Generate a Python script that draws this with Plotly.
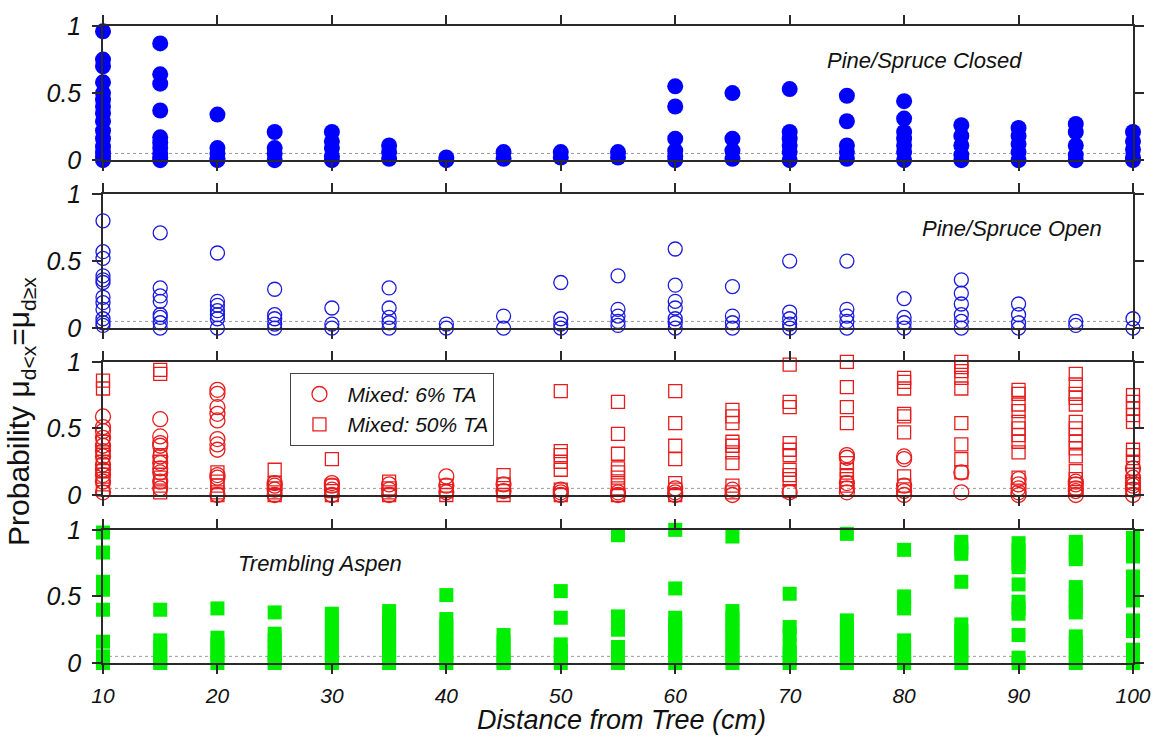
import plotly.graph_objects as go

# Distances from the tree (cm) at which probabilities were evaluated
distances = [10, 15, 20, 25, 30, 35, 40, 45, 50, 55, 60, 65, 70, 75, 80, 85, 90, 95, 100]

# Probability values per distance for each stand type
pine_closed = [
    [0.96, 0.75, 0.70, 0.58, 0.50, 0.45, 0.40, 0.35, 0.29, 0.22, 0.16, 0.10, 0.06, 0.03, 0.0],
    [0.87, 0.64, 0.57, 0.37, 0.17, 0.13, 0.09, 0.05, 0.02, 0.0],
    [0.34, 0.09, 0.05, 0.01, 0.0],
    [0.21, 0.09, 0.05, 0.0],
    [0.21, 0.14, 0.09, 0.03, 0.0],
    [0.11, 0.06, 0.01],
    [0.02, 0.0],
    [0.06, 0.01],
    [0.06, 0.02],
    [0.06, 0.02],
    [0.55, 0.40, 0.16, 0.07, 0.03, 0.0],
    [0.50, 0.16, 0.07, 0.01],
    [0.53, 0.21, 0.16, 0.11, 0.06, 0.0],
    [0.48, 0.29, 0.11, 0.06, 0.01],
    [0.44, 0.31, 0.21, 0.16, 0.11, 0.06, 0.0],
    [0.26, 0.18, 0.11, 0.04, 0.0],
    [0.24, 0.18, 0.12, 0.06, 0.0],
    [0.27, 0.21, 0.11, 0.04, 0.0],
    [0.21, 0.14, 0.08, 0.02, 0.0],
]

pine_open = [
    [0.80, 0.57, 0.52, 0.39, 0.36, 0.34, 0.23, 0.19, 0.14, 0.07, 0.04, 0.02],
    [0.71, 0.30, 0.24, 0.20, 0.10, 0.08, 0.04, 0.0],
    [0.56, 0.20, 0.17, 0.13, 0.10, 0.07, 0.0],
    [0.29, 0.10, 0.07, 0.03, 0.0],
    [0.15, 0.03, 0.0],
    [0.30, 0.15, 0.08, 0.04, 0.0],
    [0.03, 0.0],
    [0.09, 0.0],
    [0.34, 0.07, 0.03, 0.0],
    [0.39, 0.14, 0.09, 0.05, 0.02],
    [0.59, 0.32, 0.20, 0.15, 0.07, 0.04, 0.0],
    [0.31, 0.09, 0.04, 0.0],
    [0.50, 0.12, 0.07, 0.03, 0.0],
    [0.50, 0.14, 0.09, 0.05, 0.0],
    [0.22, 0.08, 0.04, 0.0],
    [0.36, 0.26, 0.18, 0.10, 0.05, 0.0],
    [0.18, 0.10, 0.04, 0.0],
    [0.05, 0.02],
    [0.07, 0.0],
]

mixed_6 = [
    [0.59, 0.51, 0.48, 0.43, 0.37, 0.33, 0.29, 0.23, 0.19, 0.15, 0.10, 0.02],
    [0.57, 0.44, 0.39, 0.37, 0.29, 0.24, 0.20, 0.17, 0.10, 0.05],
    [0.79, 0.76, 0.66, 0.61, 0.56, 0.42, 0.38, 0.34, 0.15, 0.13, 0.0],
    [0.09, 0.07, 0.04, 0.0],
    [0.09, 0.07, 0.04, 0.0],
    [0.08, 0.04, 0.0],
    [0.14, 0.07, 0.02],
    [0.08, 0.03],
    [0.04, 0.02, 0.0],
    [0.02, 0.0],
    [0.05, 0.02, 0.0],
    [0.04, 0.0],
    [0.02],
    [0.30, 0.28, 0.09, 0.05, 0.02],
    [0.29, 0.27, 0.07, 0.03, 0.0],
    [0.17, 0.02],
    [0.12, 0.08, 0.05, 0.02, 0.0],
    [0.10, 0.08, 0.05, 0.03, 0.0],
    [0.20, 0.13, 0.09, 0.07, 0.04, 0.0],
]

mixed_50 = [
    [0.86, 0.80, 0.40, 0.32, 0.25, 0.18, 0.12, 0.08, 0.04],
    [0.94, 0.91, 0.30, 0.25, 0.13, 0.10, 0.07, 0.02],
    [0.17, 0.10, 0.07, 0.02, 0.0],
    [0.19, 0.09, 0.05, 0.02, 0.0],
    [0.27, 0.07, 0.03, 0.0],
    [0.10, 0.05, 0.02, 0.0],
    [0.07, 0.03, 0.0],
    [0.15, 0.08, 0.03, 0.0],
    [0.78, 0.33, 0.30, 0.25, 0.19, 0.04, 0.0],
    [0.70, 0.46, 0.31, 0.20, 0.17, 0.13, 0.09, 0.05, 0.0],
    [0.78, 0.54, 0.37, 0.27, 0.09, 0.04, 0.0],
    [0.64, 0.59, 0.54, 0.40, 0.37, 0.32, 0.24, 0.07, 0.02],
    [0.98, 0.70, 0.66, 0.39, 0.34, 0.30, 0.19, 0.15, 0.12, 0.03],
    [1.0, 0.81, 0.66, 0.54, 0.24, 0.19, 0.15, 0.12, 0.07],
    [0.88, 0.85, 0.80, 0.61, 0.59, 0.47, 0.14, 0.07],
    [1.0, 0.96, 0.93, 0.88, 0.80, 0.54, 0.38, 0.27, 0.17],
    [0.79, 0.76, 0.68, 0.63, 0.55, 0.50, 0.45, 0.40, 0.32, 0.13],
    [0.91, 0.83, 0.76, 0.73, 0.68, 0.55, 0.50, 0.45, 0.40, 0.35, 0.29, 0.18, 0.12, 0.05],
    [0.75, 0.70, 0.65, 0.60, 0.55, 0.34, 0.30, 0.25, 0.18, 0.10, 0.04],
]

aspen = [
    [0.98, 0.83, 0.61, 0.55, 0.40, 0.16, 0.05, 0.0],
    [0.40, 0.17, 0.12, 0.07, 0.02, 0.0],
    [0.41, 0.19, 0.14, 0.09, 0.04, 0.0],
    [0.38, 0.22, 0.17, 0.12, 0.07, 0.02, 0.0],
    [0.37, 0.32, 0.27, 0.22, 0.17, 0.12, 0.07, 0.02, 0.0],
    [0.39, 0.34, 0.29, 0.24, 0.19, 0.14, 0.09, 0.04, 0.0],
    [0.51, 0.33, 0.28, 0.23, 0.18, 0.13, 0.08, 0.03, 0.0],
    [0.21, 0.16, 0.11, 0.06, 0.01, 0.0],
    [0.54, 0.34, 0.14, 0.09, 0.04, 0.0],
    [0.96, 0.35, 0.30, 0.25, 0.12, 0.07, 0.02, 0.0],
    [1.0, 0.56, 0.34, 0.29, 0.24, 0.19, 0.14, 0.09, 0.04, 0.0],
    [0.95, 0.39, 0.34, 0.29, 0.24, 0.19, 0.14, 0.09, 0.04, 0.0],
    [0.52, 0.27, 0.22, 0.13, 0.08, 0.03, 0.0],
    [0.97, 0.32, 0.27, 0.22, 0.17, 0.12, 0.07, 0.02, 0.0],
    [0.85, 0.50, 0.45, 0.41, 0.17, 0.12, 0.07, 0.02, 0.0],
    [0.91, 0.86, 0.82, 0.61, 0.29, 0.24, 0.19, 0.14, 0.09, 0.04, 0.0],
    [0.90, 0.85, 0.80, 0.75, 0.72, 0.59, 0.46, 0.41, 0.37, 0.21, 0.04, 0.0],
    [0.91, 0.86, 0.81, 0.78, 0.57, 0.52, 0.47, 0.42, 0.38, 0.20, 0.15, 0.10, 0.05, 0.0],
    [0.94, 0.89, 0.84, 0.80, 0.65, 0.60, 0.55, 0.50, 0.47, 0.32, 0.27, 0.24, 0.10, 0.05, 0.0],
]

panel_labels = ["Pine/Spruce Closed", "Pine/Spruce Open", "", "Trembling Aspen"]
x_ticks = [10, 20, 30, 40, 50, 60, 70, 80, 90, 100]
y_ticks = [0, 0.5, 1]
y_tick_text = ["0", "0.5", "1"]


def flatten(groups):
    xs, ys = [], []
    for d, vals in zip(distances, groups):
        xs.extend([d] * len(vals))
        ys.extend(vals)
    return xs, ys


FONT = "Liberation Sans, Arial, sans-serif"
AXIS_COLOR = "#2a2a2a"

fig = go.Figure()

x, y = flatten(pine_closed)
fig.add_trace(go.Scatter(x=x, y=y, mode="markers", xaxis="x", yaxis="y", showlegend=False,
                         cliponaxis=False,
                         marker=dict(symbol="circle", size=16, color="#0000ff", line=dict(width=0))))

x, y = flatten(pine_open)
fig.add_trace(go.Scatter(x=x, y=y, mode="markers", xaxis="x2", yaxis="y2", showlegend=False,
                         cliponaxis=False,
                         marker=dict(symbol="circle-open", size=14, color="#1a1adf",
                                     line=dict(width=1.3, color="#1a1adf"))))

x, y = flatten(mixed_6)
fig.add_trace(go.Scatter(x=x, y=y, mode="markers", xaxis="x3", yaxis="y3", name="Mixed: 6% TA",
                         cliponaxis=False,
                         marker=dict(symbol="circle-open", size=15, color="#e81c1c",
                                     line=dict(width=1.3, color="#e81c1c"))))

x, y = flatten(mixed_50)
fig.add_trace(go.Scatter(x=x, y=y, mode="markers", xaxis="x3", yaxis="y3", name="Mixed: 50% TA",
                         cliponaxis=False,
                         marker=dict(symbol="square-open", size=13, color="#e81c1c",
                                     line=dict(width=1.3, color="#e81c1c"))))

x, y = flatten(aspen)
fig.add_trace(go.Scatter(x=x, y=y, mode="markers", xaxis="x4", yaxis="y4", showlegend=False,
                         cliponaxis=False,
                         marker=dict(symbol="square", size=14, color="#00ee00", line=dict(width=0))))

domains = [[0.7894, 1.0], [0.5257, 0.7363], [0.2637, 0.4727], [0.0, 0.2090]]

layout = dict(
    width=1163, height=740,
    margin=dict(l=103, r=22, t=22, b=77),
    paper_bgcolor="white", plot_bgcolor="white",
    font=dict(family=FONT, color="#111"),
    legend=dict(x=0.182, y=0.4555, xanchor="left", yanchor="top",
                bordercolor="#444", borderwidth=1, bgcolor="white",
                font=dict(family=FONT, size=21, style="italic", color="#111"),
                itemwidth=46, tracegroupgap=0),
    shapes=[], annotations=[],
)

for i, dom in enumerate(domains, start=1):
    sfx = "" if i == 1 else str(i)
    layout["xaxis" + sfx] = dict(
        domain=[0, 1], range=[10, 100], anchor="y" + sfx,
        showline=True, linecolor=AXIS_COLOR, linewidth=1.5, mirror="ticks",
        ticks="outside", ticklen=9, tickwidth=1.5, tickcolor=AXIS_COLOR,
        tickvals=x_ticks, showticklabels=(i == 4), ticklabelstandoff=4,
        tickfont=dict(family=FONT, size=21, style="italic", color="#111"),
        showgrid=False, zeroline=False,
    )
    layout["yaxis" + sfx] = dict(
        domain=dom, range=[0, 1], anchor="x" + sfx,
        showline=True, linecolor=AXIS_COLOR, linewidth=1.5, mirror="ticks",
        ticks="outside", ticklen=9, tickwidth=1.5, tickcolor=AXIS_COLOR,
        tickvals=y_ticks, ticktext=y_tick_text, ticklabelstandoff=6,
        tickfont=dict(family=FONT, size=25, style="italic", color="#111"),
        showgrid=False, zeroline=False,
    )
    # dotted reference level at p = 0.05
    layout["shapes"].append(dict(
        type="line", xref="x" + sfx + " domain", yref="y" + sfx,
        x0=0, x1=1, y0=0.05, y1=0.05, layer="below",
        line=dict(color="#9a9a9a", width=1, dash="dot"),
    ))

label_pos = [(81.8, 0.74), (89.45, 0.74), None, (29.0, 0.75)]
for i, (txt, pos) in enumerate(zip(panel_labels, label_pos), start=1):
    if not txt:
        continue
    sfx = "" if i == 1 else str(i)
    layout["annotations"].append(dict(
        text=txt, x=pos[0], y=pos[1], xref="x" + sfx, yref="y" + sfx,
        showarrow=False, xanchor="center", yanchor="middle",
        font=dict(family=FONT, size=22, style="italic", color="#111"),
    ))

layout["annotations"].append(dict(
    text="Probability μ<sub>d&lt;x</sub>=μ<sub>d≥x</sub>",
    x=-0.080, y=0.395, xref="paper", yref="paper", textangle=-90,
    showarrow=False, xanchor="center", yanchor="middle",
    font=dict(family=FONT, size=30, color="#111"),
))
layout["annotations"].append(dict(
    text="Distance from Tree (cm)",
    x=0.503, y=-0.089, xref="paper", yref="paper",
    showarrow=False, xanchor="center", yanchor="middle",
    font=dict(family=FONT, size=27, style="italic", color="#111"),
))

fig.update_layout(**layout)
fig.write_html("out.html")
